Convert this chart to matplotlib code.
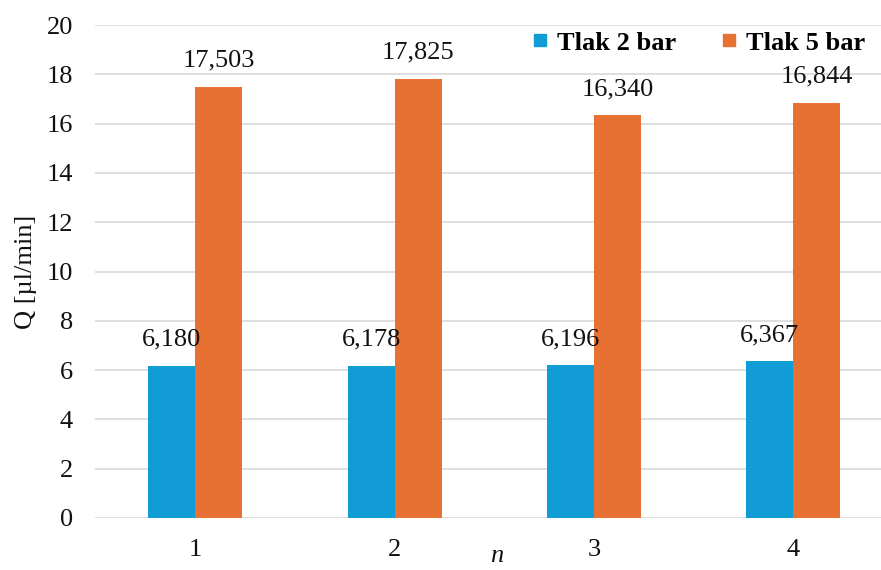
import matplotlib
matplotlib.use("Agg")
import matplotlib.pyplot as plt
from matplotlib.lines import Line2D
import numpy as np

# Measurement data: flow rate Q for four runs at two pressures
runs = ["1", "2", "3", "4"]
q_2bar = [6.180, 6.178, 6.196, 6.367]
q_5bar = [17.503, 17.825, 16.340, 16.844]
series_names = ["Tlak 2 bar", "Tlak 5 bar"]
y_ticks = [0, 2, 4, 6, 8, 10, 12, 14, 16, 18, 20]

blue = "#129CD6"
orange = "#E77133"
grid_col = "#D9D9D9"

plt.rcParams["font.family"] = ["Liberation Serif", "DejaVu Serif"]
fs = 19

fig = plt.figure(figsize=(8.81, 5.70), dpi=100)
ax = fig.add_axes([95 / 881, 52 / 570, 1 - 95 / 881, (518 - 25) / 570])

x = np.arange(1, len(runs) + 1)
w = 0.236
b1 = ax.bar(x - w / 2, q_2bar, width=w, color=blue, zorder=2)
b2 = ax.bar(x + w / 2, q_5bar, width=w, color=orange, zorder=2)


def fmt(v):
    return f"{v:.3f}".replace(".", ",")


for bars, vals in ((b1, q_2bar), (b2, q_5bar)):
    for rect, v in zip(bars, vals):
        ax.annotate(fmt(v), (rect.get_x() + rect.get_width() / 2, v),
                    xytext=(0, 18.7), textcoords="offset points",
                    ha="center", va="center", fontsize=fs, color="#111111",
                    zorder=5)

ax.set_xlim(0.496, 4.44)
ax.set_ylim(0, 20)
ax.set_yticks(y_ticks)
ax.set_xticks(x)
ax.set_xticklabels(runs)
ax.tick_params(axis="both", length=0, labelsize=fs, colors="#111111")
ax.tick_params(axis="y", pad=16)
ax.tick_params(axis="x", pad=15)
ax.yaxis.grid(True, color=grid_col, linewidth=1.2, zorder=0)
ax.set_axisbelow(True)
for s in ax.spines.values():
    s.set_visible(False)

fig.text(26 / 881, 1 - 272 / 570, "Q [µl/min]", rotation=90, ha="center",
         va="center", fontsize=fs, color="#111111")
fig.text(497 / 881, 1 - 556 / 570, "n", style="italic", ha="center",
         va="center", fontsize=fs, color="#111111")

handles = [Line2D([], [], marker="s", linestyle="none", markersize=8.5,
                  color=c) for c in (blue, orange)]
leg = fig.legend(handles, series_names, loc="center",
                 bbox_to_anchor=(699 / 881, 1 - 43 / 570), ncol=2,
                 frameon=False, handlelength=0.6, handletextpad=0.35,
                 columnspacing=1.7,
                 prop={"size": fs, "weight": "bold"})

fig.savefig("out.png", dpi=100)
